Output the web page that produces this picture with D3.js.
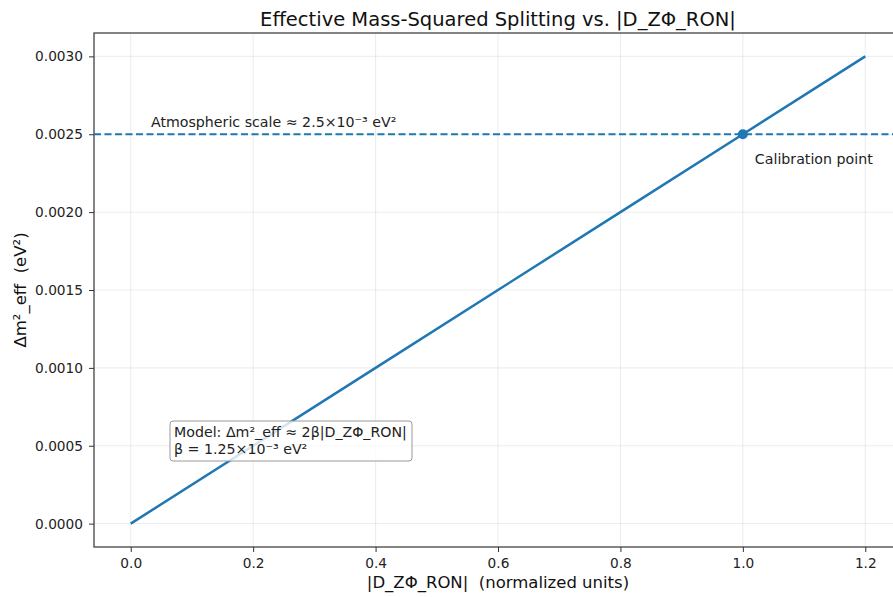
<!DOCTYPE html>
<html><head><meta charset="utf-8">
<script src="https://cdn.jsdelivr.net/npm/d3@7"></script>
<style>body{margin:0;background:#fff;} text{font-family:"DejaVu Sans",sans-serif;white-space:pre;}</style>
</head><body>
<svg id="c" width="893" height="597"></svg>
<script>
const xValues = [0, 0.2, 0.4, 0.6, 0.8, 1.0, 1.2];
const yValues = [0, 0.0005, 0.0010, 0.0015, 0.0020, 0.0025, 0.0030];
const xTicks = [0, 0.2, 0.4, 0.6, 0.8, 1.0, 1.2];
const yTicks = [0, 0.0005, 0.0010, 0.0015, 0.0020, 0.0025, 0.0030];
const atmosphericScale = 0.0025;
const calibrationPoint = [1.0, 0.0025];
const titleText = "Effective Mass-Squared Splitting vs. |D_ZΦ_RON|";
const xLabel = "|D_ZΦ_RON|  (normalized units)";
const yLabel = "Δm²_eff  (eV²)";
const atmLabel = "Atmospheric scale ≈ 2.5×10⁻³ eV²";
const calLabel = "Calibration point";
const modelLines = ["Model: Δm²_eff ≈ 2β|D_ZΦ_RON|", "β = 1.25×10⁻³ eV²"];

const svg = d3.select("#c");
const L = 94, R = 902, T = 33, B = 547;
const x = d3.scaleLinear().domain([-0.06, 1.26]).range([L, R]);
const y = d3.scaleLinear().domain([-0.00015, 0.00315]).range([B, T]);
const blue = "#1f77b4";

// grid
svg.append("g").selectAll("line").data(xTicks).join("line")
  .attr("x1", d => x(d)).attr("x2", d => x(d)).attr("y1", T).attr("y2", B)
  .attr("stroke", "#b0b0b0").attr("stroke-opacity", 0.3).attr("stroke-width", 0.8);
svg.append("g").selectAll("line").data(yTicks).join("line")
  .attr("y1", d => y(d)).attr("y2", d => y(d)).attr("x1", L).attr("x2", R)
  .attr("stroke", "#b0b0b0").attr("stroke-opacity", 0.3).attr("stroke-width", 0.8);

// axes
const xAxis = svg.append("g").attr("transform", `translate(0,${B})`)
  .call(d3.axisBottom(x).tickValues(xTicks).tickFormat(d3.format(".1f")).tickSize(5).tickPadding(6));
const yAxis = svg.append("g").attr("transform", `translate(${L},0)`)
  .call(d3.axisLeft(y).tickValues(yTicks).tickFormat(d3.format(".4f")).tickSize(5).tickPadding(6));
[xAxis, yAxis].forEach(a => {
  a.select(".domain").remove();
  a.selectAll("line").attr("stroke", "#333").attr("stroke-width", 1);
  a.selectAll("text").attr("font-size", 13.7).attr("fill", "#222").attr("font-family", "DejaVu Sans");
});
// spines
svg.append("rect").attr("x", L).attr("y", T).attr("width", R - L).attr("height", B - T)
  .attr("fill", "none").attr("stroke", "#333").attr("stroke-width", 1.2);

// dashed horizontal
svg.append("line").attr("x1", L).attr("x2", R).attr("y1", y(atmosphericScale)).attr("y2", y(atmosphericScale))
  .attr("stroke", blue).attr("stroke-width", 1.8).attr("stroke-dasharray", "7,3.5");

// main line
const pts = xValues.map((v, i) => [v, yValues[i]]);
svg.append("path").datum(pts)
  .attr("d", d3.line().x(d => x(d[0])).y(d => y(d[1])))
  .attr("fill", "none").attr("stroke", blue).attr("stroke-width", 2.5);

// calibration point
svg.append("circle").attr("cx", x(calibrationPoint[0])).attr("cy", y(calibrationPoint[1])).attr("r", 5).attr("fill", blue);

svg.append("text").attr("x", x(0.033)).attr("y", y(atmosphericScale) - 7)
  .attr("font-size", 14.2).attr("fill", "#222").text(atmLabel);
svg.append("text").attr("x", x(calibrationPoint[0]) + 12).attr("y", y(calibrationPoint[1]) + 30)
  .attr("font-size", 14.2).attr("fill", "#222").text(calLabel);

// model box
const bx = 170, by = 421;
const g = svg.append("g");
g.append("rect").attr("x", bx).attr("y", by).attr("width", 242).attr("height", 40).attr("rx", 3)
  .attr("fill", "#fff").attr("fill-opacity", 0.8).attr("stroke", "#999").attr("stroke-width", 1);
modelLines.forEach((t, i) => g.append("text").attr("x", bx + 4).attr("y", by + 16 + i * 17)
  .attr("font-size", 14.2).attr("fill", "#222").text(t));

// labels
svg.append("text").attr("x", (L + R) / 2).attr("y", 26).attr("text-anchor", "middle")
  .attr("font-size", 19.5).attr("fill", "#111").text(titleText);
svg.append("text").attr("x", (L + R) / 2).attr("y", 588).attr("text-anchor", "middle")
  .attr("font-size", 16.5).attr("fill", "#111").text(xLabel);
svg.append("text").attr("transform", `translate(26,${(T + B) / 2}) rotate(-90)`).attr("text-anchor", "middle")
  .attr("font-size", 16.5).attr("fill", "#111").text(yLabel);
</script>
</body></html>
